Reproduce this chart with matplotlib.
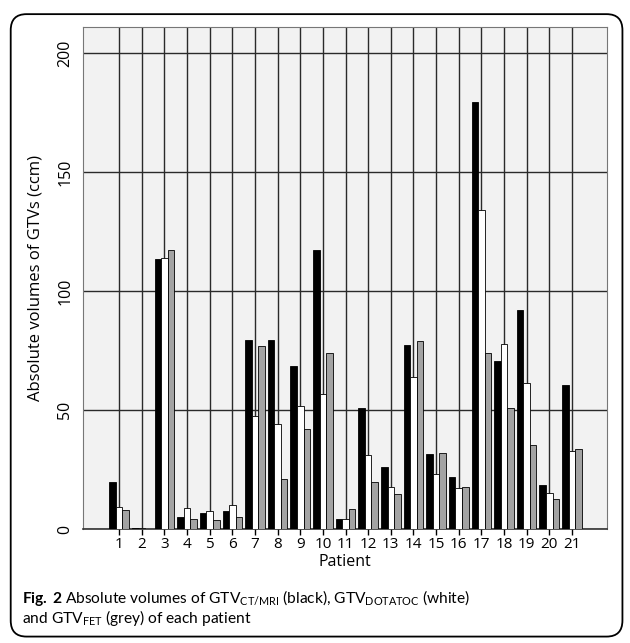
import numpy as np
import matplotlib
matplotlib.use("Agg")
import matplotlib.pyplot as plt
from matplotlib.patches import FancyBboxPatch

CAP_FONT = 'Lato'

plt.rcParams['font.family'] = ['Open Sans', 'DejaVu Sans']
plt.rcParams['mathtext.fontset'] = 'custom'
plt.rcParams['mathtext.rm'] = CAP_FONT
plt.rcParams['mathtext.bf'] = CAP_FONT + ':bold'

# --- Data (ccm) ---
patients = [str(i) for i in range(1, 22)]
gtv_ct_mri = [19.7, 0.3, 113.6, 4.9, 6.7, 7.7, 79.4, 79.4, 68.5, 117.4, 4.3,
              51.0, 26.0, 77.5, 31.7, 21.8, 179.4, 70.6, 91.9, 18.6, 60.6]
gtv_dotatoc = [9.1, 0.3, 113.8, 8.7, 7.4, 9.9, 47.3, 44.1, 51.5, 56.7, 4.2,
               31.1, 17.6, 63.9, 23.1, 17.2, 134.2, 77.9, 61.5, 15.0, 32.8]
gtv_fet = [8.0, 0.2, 117.4, 4.1, 3.6, 5.0, 76.8, 21.0, 42.2, 74.1, 8.3,
           19.7, 14.7, 79.1, 32.1, 17.5, 74.1, 50.8, 35.4, 12.5, 33.5]
y_ticks = [0, 50, 100, 150, 200]

fig = plt.figure(figsize=(6.3, 6.43), dpi=100)

# rounded outer frame
frame = FancyBboxPatch((0.017, 0.01), 0.971, 0.968, boxstyle="round,pad=0,rounding_size=0.025",
                       transform=fig.transFigure, fill=False, edgecolor='black', linewidth=1.3)
fig.patches.append(frame)

ax = fig.add_axes([0.1317, 0.1773, 0.8318, 0.7807])
ax.set_facecolor('#f2f2f2')

x = np.arange(1, len(patients) + 1)
w = 0.29
ax.bar(x - w, gtv_ct_mri, w, color='black', edgecolor='black', linewidth=0.6, zorder=3)
ax.bar(x, gtv_dotatoc, w, color='white', edgecolor='black', linewidth=0.6, zorder=3)
ax.bar(x + w, gtv_fet, w, color='#a3a3a3', edgecolor='black', linewidth=0.6, zorder=3)

ax.set_xlim(-0.6, 22.55)
ax.set_ylim(0, 211)
ax.set_xticks(x)
ax.set_xticklabels(patients, fontsize=11)
ax.set_yticks(y_ticks)
ax.set_yticklabels([str(t) for t in y_ticks], fontsize=11.5, rotation=90, va='center')
ax.tick_params(axis='x', length=4, width=1, pad=2)
ax.tick_params(axis='y', length=0, pad=7)

ax.grid(True, color='#2a2a2a', linewidth=1.0, zorder=1)
ax.set_axisbelow(True)

for side in ['top', 'right', 'left']:
    ax.spines[side].set_color('#777777')
    ax.spines[side].set_linewidth(0.8)
ax.spines['bottom'].set_color('#333333')
ax.spines['bottom'].set_linewidth(1.2)

ax.set_xlabel("Patient", fontsize=11.5, labelpad=1)
ax.set_ylabel("Absolute volumes of GTVs (ccm)", fontsize=12, labelpad=10)

cap_kw = dict(fontsize=11.2, va='baseline', family=[CAP_FONT, 'DejaVu Sans'])
fig.text(0.035, 0.0622, r"$\mathbf{Fig.\,2}$" + " Absolute volumes of GTV$_{\\mathrm{CT/MRI}}$ (black), "
         "GTV$_{\\mathrm{DOTATOC}}$ (white)", **cap_kw)
fig.text(0.035, 0.0311, "and GTV$_{\\mathrm{FET}}$ (grey) of each patient", **cap_kw)

fig.savefig("out.png", dpi=100)
